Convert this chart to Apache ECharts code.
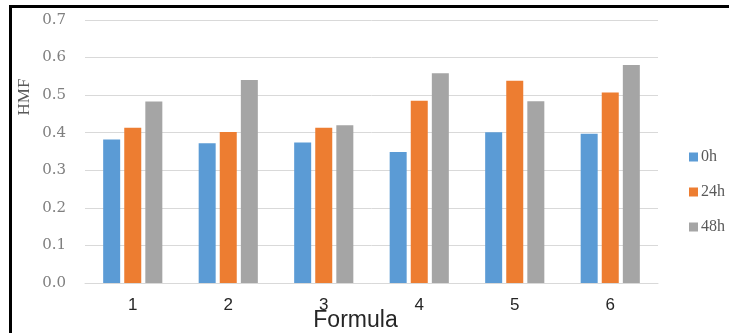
<!DOCTYPE html>
<html>
<head>
<meta charset="utf-8">
<script src="https://cdn.jsdelivr.net/npm/echarts@6/dist/echarts.min.js"></script>
<style>
  html, body { margin: 0; padding: 0; background: #ffffff; }
  #chart { width: 729px; height: 333px; }
</style>
</head>
<body>
<div id="chart"></div>
<script>
// Formula groups on the x axis
const categories = ['1', '2', '3', '4', '5', '6'];
// HMF readings at each sampling time
const hmf0h  = [0.382, 0.372, 0.374, 0.349, 0.401, 0.397];
const hmf24h = [0.413, 0.402, 0.413, 0.485, 0.538, 0.507];
const hmf48h = [0.483, 0.540, 0.420, 0.558, 0.484, 0.580];
const seriesNames = ['0h', '24h', '48h'];
const yTicks = [0, 0.1, 0.2, 0.3, 0.4, 0.5, 0.6, 0.7];
const yTitle = 'HMF';
const xTitle = 'Formula';

const colors = ['#5B9BD5', '#ED7D31', '#A5A5A5'];
const serif = '"Liberation Serif", "DejaVu Serif", serif';
const sans = '"Liberation Sans", "DejaVu Sans", sans-serif';

const chart = echarts.init(document.getElementById('chart'), null, { renderer: 'canvas' });

const barBase = { type: 'bar', barWidth: 17, barGap: '24%', silent: true };

chart.setOption({
  animation: false,
  backgroundColor: '#ffffff',
  color: colors,
  grid: { left: 85, right: 71, top: 20, bottom: 50, containLabel: false, outerBoundsMode: 'none' },
  legend: {
    orient: 'vertical',
    left: 684,
    top: 144,
    itemWidth: 9,
    itemHeight: 9,
    itemGap: 19,
    icon: 'rect',
    textStyle: { fontFamily: serif, fontSize: 16, color: '#595959', padding: [0, 0, 0, -2] },
    data: seriesNames
  },
  xAxis: {
    type: 'category',
    data: categories,
    name: xTitle,
    nameLocation: 'middle',
    nameGap: 26,
    nameMoveOverlap: false,
    nameTextStyle: { fontFamily: sans, fontSize: 23, color: '#262626', padding: [0, 32, 0, 0] },
    axisLine: { show: true, lineStyle: { color: '#D9D9D9', width: 1 } },
    axisTick: { show: false },
    axisLabel: { fontFamily: sans, fontSize: 17, color: '#262626', margin: 14 }
  },
  yAxis: {
    type: 'value',
    min: 0,
    max: 0.7,
    interval: 0.1,
    axisLine: { show: false },
    axisTick: { show: false },
    splitLine: { show: true, lineStyle: { color: '#D9D9D9', width: 1 } },
    axisLabel: {
      fontFamily: '"DejaVu Serif", serif',
      fontSize: 15,
      color: '#7F7F7F',
      margin: 19,
      formatter: v => {
        const t = yTicks.find(x => Math.abs(x - v) < 1e-9);
        return (t !== undefined ? t : v).toFixed(1);
      }
    }
  },
  series: [
    Object.assign({ name: seriesNames[0], data: hmf0h }, barBase),
    Object.assign({ name: seriesNames[1], data: hmf24h }, barBase),
    Object.assign({ name: seriesNames[2], data: hmf48h }, barBase)
  ],
  graphic: [
    // frame: top and left border lines
    { type: 'rect', shape: { x: 9, y: 5, width: 720, height: 3 }, style: { fill: '#000000' }, silent: true },
    { type: 'rect', shape: { x: 9, y: 5, width: 3, height: 328 }, style: { fill: '#000000' }, silent: true },
    // y-axis title, set near the top of the axis
    {
      type: 'text', x: 25, y: 97, rotation: Math.PI / 2, silent: true,
      style: { text: yTitle, fontFamily: serif, fontSize: 17, fill: '#595959', align: 'center', verticalAlign: 'middle' }
    }
  ]
});
</script>
</body>
</html>
